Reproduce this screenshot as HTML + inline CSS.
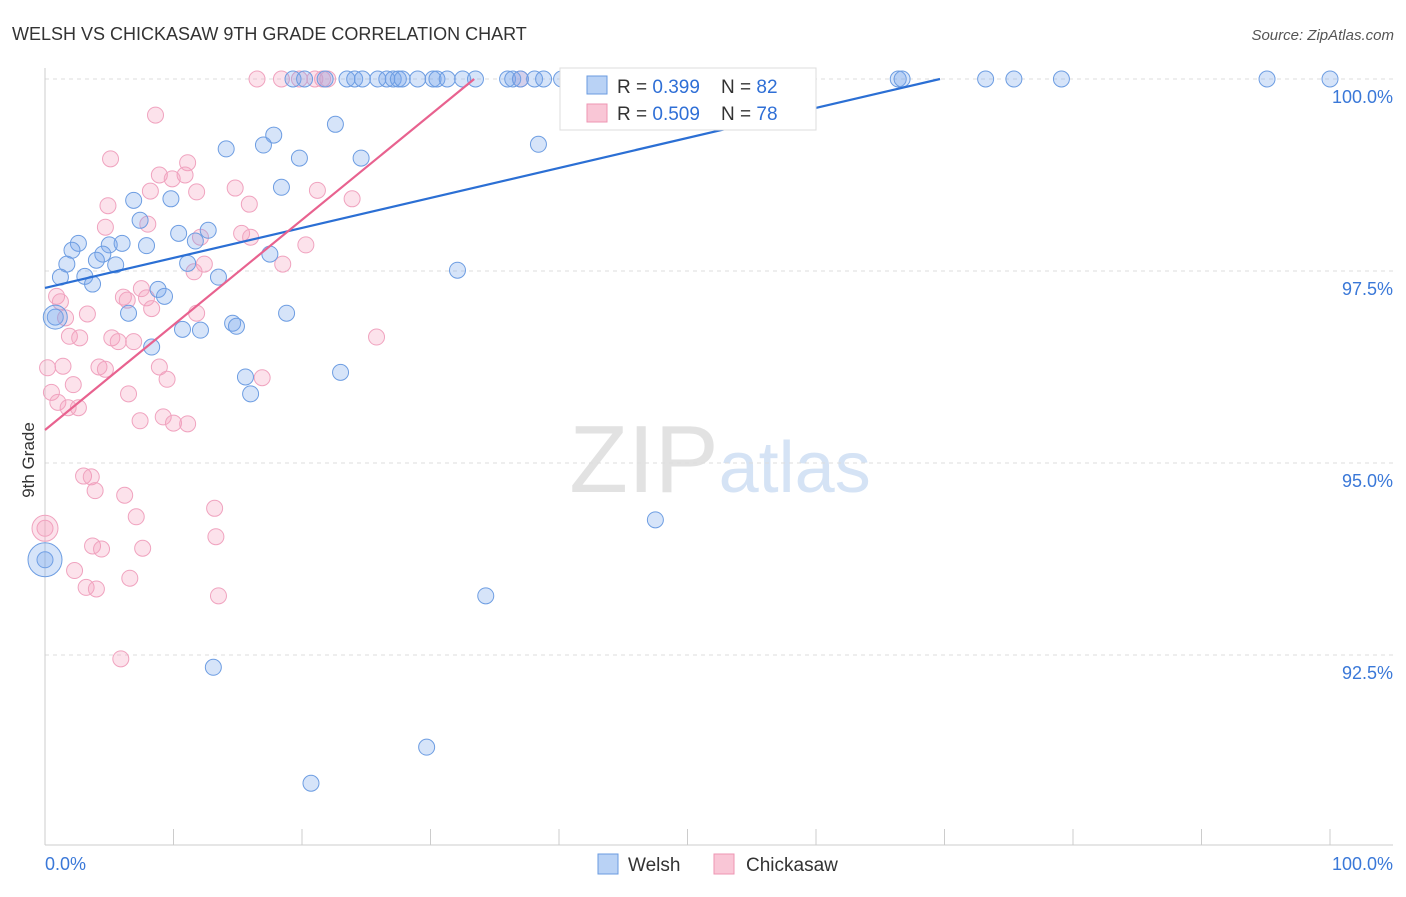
<!DOCTYPE html>
<html><head><meta charset="utf-8"><style>
body{margin:0;background:#fff;font-family:"Liberation Sans",sans-serif;}
svg text{font-family:"Liberation Sans",sans-serif;}
</style></head><body>
<svg id="chart" width="1406" height="892" viewBox="0 0 1406 892">
<text x="12" y="40" font-size="18" fill="#333">WELSH VS CHICKASAW 9TH GRADE CORRELATION CHART</text>
<text x="1394" y="40" font-size="15" fill="#555" text-anchor="end" font-style="italic">Source: ZipAtlas.com</text>
<text x="34" y="460" font-size="17" fill="#333" transform="rotate(-90 34 460)" text-anchor="middle">9th Grade</text>
<text x="720" y="492" font-size="96" fill="#e2e2e2" text-anchor="middle" font-family="Liberation Serif">ZIP<tspan fill="#d5e3f5" font-family="Liberation Sans" font-size="72">atlas</tspan></text>
<g id="grid"></g><g id="axes"></g><g id="pts"></g><g id="lines"></g>
<g>
<rect x="560" y="68" width="256" height="62" fill="#fff" stroke="#ddd"/>
<rect x="587" y="76" width="20" height="18" fill="#b9d2f5" stroke="#6a9be0"/>
<text x="617" y="93" font-size="19" fill="#333">R = <tspan fill="#2f6fd6">0.399</tspan>&#160;&#160;&#160; N = <tspan fill="#2f6fd6">82</tspan></text>
<rect x="587" y="104" width="20" height="18" fill="#f9c6d6" stroke="#ee95b3"/>
<text x="617" y="120" font-size="19" fill="#333">R = <tspan fill="#2f6fd6">0.509</tspan>&#160;&#160;&#160; N = <tspan fill="#2f6fd6">78</tspan></text>
</g>
<g>
<rect x="598" y="854" width="20" height="20" fill="#b9d2f5" stroke="#6a9be0"/>
<text x="628" y="871" font-size="19" fill="#333">Welsh</text>
<rect x="714" y="854" width="20" height="20" fill="#f9c6d6" stroke="#ee95b3"/>
<text x="746" y="871" font-size="19" fill="#333">Chickasaw</text>
</g>
</svg>
<script>
const yTicks=[100,97.5,95,92.5];
const yTickLabels=["100.0%","97.5%","95.0%","92.5%"];
const xTicks=[0,10,20,30,40,50,60,70,80,90,100];
const xEndLabels=["0.0%","100.0%"];
const welshX=[19.3,20.2,21.8,23.5,24.1,24.7,25.9,26.6,27.1,27.5,27.8,29.0,30.2,30.5,31.3,32.5,33.5,36.0,36.4,37.0,38.1,38.8,40.2,41.2,45.7,54.2,66.4,66.7,73.2,75.4,79.1,95.1,100,
22.6,17.8,14.1,17.0,19.8,24.6,38.4,18.4,6.9,9.8,7.4,12.7,10.4,11.7,2.6,5.0,6.0,7.9,2.1,4.5,17.5,4.0,1.7,5.5,11.1,32.1,1.2,3.1,13.5,3.7,8.8,9.3,0.8,6.5,18.8,14.6,14.9,10.7,12.1,8.3,23.0,15.6,16.0,47.5,34.3,13.1,29.7,20.7,0];
const welshY=[100,100,100,100,100,100,100,100,100,100,100,100,100,100,100,100,100,100,100,100,100,100,100,100,100,100,100,100,100,100,100,100,100,
99.41,99.27,99.09,99.14,98.97,98.97,99.15,98.59,98.42,98.44,98.16,98.03,97.99,97.89,97.86,97.84,97.86,97.83,97.77,97.72,97.72,97.64,97.59,97.58,97.60,97.51,97.42,97.43,97.42,97.33,97.26,97.17,96.90,96.95,96.95,96.82,96.78,96.74,96.73,96.51,96.18,96.12,95.90,94.26,93.27,92.34,91.30,90.83,93.74];
const chickX=[16.5,18.4,19.8,21.0,21.6,22.0,37.0,8.6,5.1,11.1,8.9,10.9,9.9,8.2,11.8,14.8,21.2,23.9,15.9,4.9,4.7,8.0,15.3,16.0,12.1,20.3,12.4,18.5,11.6,0.9,6.1,6.4,7.9,7.5,1.2,8.3,3.3,11.8,1.6,1.9,2.7,5.2,5.7,6.9,25.8,1.4,0.2,4.2,4.7,8.9,16.9,9.5,2.2,0.5,6.5,1.0,1.8,2.6,7.4,9.2,10.0,11.1,3.0,3.6,3.9,6.2,13.2,7.1,0,13.3,3.7,4.4,7.6,2.3,6.6,3.2,4.0,13.5,5.9];
const chickY=[100,100,100,100,100,100,100,99.53,98.96,98.91,98.75,98.75,98.70,98.54,98.53,98.58,98.55,98.44,98.37,98.35,98.07,98.11,97.99,97.94,97.94,97.84,97.59,97.59,97.49,97.17,97.16,97.12,97.15,97.27,97.10,97.01,96.94,96.95,96.89,96.65,96.63,96.63,96.58,96.58,96.64,96.26,96.24,96.25,96.22,96.25,96.11,96.09,96.02,95.92,95.90,95.79,95.72,95.72,95.55,95.60,95.52,95.51,94.83,94.82,94.64,94.58,94.41,94.30,94.15,94.04,93.92,93.88,93.89,93.60,93.50,93.38,93.36,93.27,92.45];
const welshBig=[[0.8,96.90,12],[0,93.74,17]];
const chickBig=[[0,94.15,13]];
const welshTrend=[[0,97.28],[69.65,100]];
const chickTrend=[[0,95.43],[33.4,100]];

const NS="http://www.w3.org/2000/svg";
function sx(v){return 45+v*12.85;}
function sy(v){return 79+(100-v)*76.8;}
function mk(tag,attrs,parent){const e=document.createElementNS(NS,tag);for(const k in attrs)e.setAttribute(k,attrs[k]);document.getElementById(parent).appendChild(e);return e;}
yTicks.forEach((t,i)=>{
  const l=mk('line',{x1:45,x2:1393,y1:sy(t),y2:sy(t),stroke:'#ddd','stroke-dasharray':'4 4'},'grid');
  
  
  const tx=mk('text',{x:1393,y:sy(t)+24,'font-size':18,fill:'#3a78d8','text-anchor':'end'},'grid');
  tx.textContent=yTickLabels[i];
  
  
});
const ax=mk('line',{x1:45,x2:45,y1:68,y2:845,stroke:'#ccc'},'axes');


const bx=mk('line',{x1:45,x2:1393,y1:845,y2:845,stroke:'#ccc'},'axes');


xTicks.forEach(t=>{
  const l=mk('line',{x1:sx(t),x2:sx(t),y1:829,y2:845,stroke:'#ccc'},'axes');
  
  
});
[[0,'start'],[100,'end']].forEach((p,i)=>{
  const tx=mk('text',{x:i?1393:45,y:870,'font-size':18,fill:'#3a78d8','text-anchor':p[1]},'axes');
  tx.textContent=xEndLabels[i];
  
  
});
function dot(x,y,r,fill,stroke,name){
  const c=mk('circle',{cx:sx(x),cy:sy(y),r:r,fill:fill,stroke:stroke,'stroke-width':1},'pts');
  
  
}
chickX.forEach((x,i)=>dot(x,chickY[i],8,'rgba(244,160,190,0.3)','#f0a3bf','chickasaw-point'));
welshX.forEach((x,i)=>dot(x,welshY[i],8,'rgba(120,165,235,0.3)','#6d9de2','welsh-point'));
welshBig.forEach(p=>dot(p[0],p[1],p[2],'rgba(120,165,235,0.3)','#6d9de2','welsh-point-large'));
chickBig.forEach(p=>dot(p[0],p[1],p[2],'rgba(244,160,190,0.3)','#f0a3bf','chickasaw-point-large'));
const wl=mk('line',{x1:sx(welshTrend[0][0]),y1:sy(welshTrend[0][1]),x2:sx(welshTrend[1][0]),y2:sy(welshTrend[1][1]),stroke:'#2b6fd4','stroke-width':2.2},'lines');


const cl=mk('line',{x1:sx(chickTrend[0][0]),y1:sy(chickTrend[0][1]),x2:sx(chickTrend[1][0]),y2:sy(chickTrend[1][1]),stroke:'#e8628f','stroke-width':2.2},'lines');


</script>
</body></html>
